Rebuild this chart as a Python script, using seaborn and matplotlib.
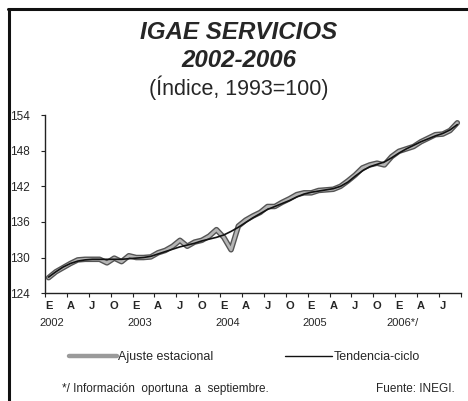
import numpy as np
import pandas as pd
import matplotlib
matplotlib.use("Agg")
import matplotlib.pyplot as plt
from matplotlib.lines import Line2D
import seaborn as sns

# monthly index, Jan 2002 - Sep 2006
ajuste = [126.6, 127.6, 128.3, 129.0, 129.6, 129.7, 129.7, 129.7, 129.1, 129.9, 129.3, 130.3,
          130.0, 130.0, 130.1, 130.8, 131.2, 131.9, 132.9, 131.9, 132.6, 132.9, 133.6, 134.7,
          133.4, 131.3, 135.3, 136.3, 137.0, 137.6, 138.6, 138.6, 139.3, 139.9, 140.6, 140.9,
          140.9, 141.3, 141.4, 141.5, 142.0, 142.9, 143.9, 145.1, 145.6, 145.9, 145.6, 147.0,
          147.9, 148.3, 148.7, 149.5, 150.1, 150.7, 150.8, 151.4, 152.7]
tendencia = [126.7, 127.6, 128.4, 129.0, 129.4, 129.6, 129.7, 129.7, 129.7, 129.7, 129.7, 129.8,
             129.9, 130.0, 130.2, 130.6, 131.0, 131.4, 131.8, 132.1, 132.4, 132.8, 133.1, 133.4,
             133.8, 134.4, 135.1, 135.9, 136.7, 137.4, 138.1, 138.6, 139.1, 139.6, 140.2, 140.7,
             141.0, 141.2, 141.4, 141.6, 142.0, 142.7, 143.7, 144.6, 145.3, 145.7, 146.1, 146.8,
             147.6, 148.3, 148.9, 149.5, 150.0, 150.5, 150.9, 151.5, 152.4]
mes_labels = ["E", "A", "J", "O"] * 4 + ["E", "A", "J"]
year_labels = ["2002", "2003", "2004", "2005", "2006*/"]
y_ticks = [124, 130, 136, 142, 148, 154]

df = pd.DataFrame({"mes": np.arange(len(ajuste)), "ajuste": ajuste, "tendencia": tendencia})

sns.set_style("ticks")
plt.rcParams["font.family"] = ["Liberation Sans", "DejaVu Sans"]

fig = plt.figure(figsize=(4.68, 4.01), dpi=100)
ax = fig.add_axes([0.096, 0.269, 0.889, 0.444])

# seasonal adjusted series: thick grey textured line
sns.lineplot(data=df, x="mes", y="ajuste", ax=ax, color="#555555", lw=4.0, legend=False)
sns.lineplot(data=df, x="mes", y="ajuste", ax=ax, color="#b5b5b5", lw=2.0, legend=False)
sns.lineplot(data=df, x="mes", y="tendencia", ax=ax, color="#111111", lw=1.2, legend=False)

ax.set_xlim(-0.5, len(ajuste) - 0.5)
ax.set_ylim(124, 154)
ax.set_yticks(y_ticks)
ax.set_yticklabels([str(v) for v in y_ticks], fontsize=8.5)
ax.set_xticks(np.arange(0, len(ajuste), 3))
ax.set_xticklabels(mes_labels, fontsize=8, fontweight="bold")
ax.set_xticks(np.arange(-0.5, len(ajuste), 3), minor=True)
ax.tick_params(axis="x", which="major", length=0, pad=6)
ax.tick_params(axis="x", which="minor", length=3, width=0.8, color="#222222")
ax.tick_params(axis="y", length=3, width=0.8, color="#222222", pad=8)
ax.set_xlabel("")
ax.set_ylabel("")
for s in ["top", "right"]:
    ax.spines[s].set_visible(False)
for s in ["left", "bottom"]:
    ax.spines[s].set_color("#222222")
    ax.spines[s].set_linewidth(1.0)

trans = ax.get_xaxis_transform()
for k, yl in enumerate(year_labels):
    ax.text(k * 12 + 0.5, -0.165, yl, transform=trans, ha="center", va="center", fontsize=8)

# titles
fig.text(0.51, 0.92, "IGAE SERVICIOS", ha="center", va="center", fontsize=17.4,
         fontweight="bold", fontstyle="italic")
fig.text(0.51, 0.85, "2002-2006", ha="center", va="center", fontsize=17.4,
         fontweight="bold", fontstyle="italic")
fig.text(0.51, 0.78, "(Índice, 1993=100)", ha="center", va="center", fontsize=15.5)

# legend
handles = [Line2D([], [], color="#9a9a9a", lw=3.2),
           Line2D([], [], color="#111111", lw=1.0)]
fig.legend(handles, ["Ajuste estacional", "Tendencia-ciclo"], loc="center left",
           bbox_to_anchor=(0.148, 0.11), ncol=2, frameon=False, fontsize=9,
           handlelength=3.8, handletextpad=0.1, columnspacing=5.7, borderpad=0, borderaxespad=0)

fig.text(0.132, 0.03, "*/ Información  oportuna  a  septiembre.", ha="left", va="center", fontsize=8.5)
fig.text(0.972, 0.03, "Fuente: INEGI.", ha="right", va="center", fontsize=8.5)

# page frame lines
fig.add_artist(Line2D([0.019, 0.019], [0.0, 0.978], transform=fig.transFigure, color="#111111", lw=2.2))
fig.add_artist(Line2D([0.017, 1.0], [0.978, 0.978], transform=fig.transFigure, color="#111111", lw=2.2))

fig.savefig("out.png", dpi=100)
